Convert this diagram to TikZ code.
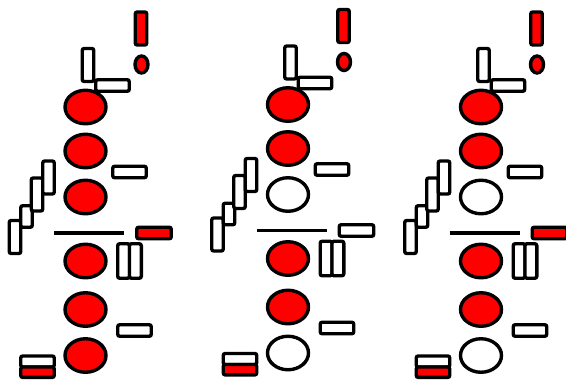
\documentclass[tikz,border=0pt]{standalone}
\usetikzlibrary{shapes.geometric}
\begin{document}
\begin{tikzpicture}[
    x=1pt, y=-1pt,
    every node/.style = {draw, line width=3.4pt, inner sep=0pt, outer sep=0pt, fill=white},
    oval/.style = {ellipse, minimum width=41pt, minimum height=33.5pt},
    vbar/.style = {rectangle, rounded corners=2pt, minimum width=11.5pt, minimum height=33pt},
    hbar/.style = {rectangle, rounded corners=2pt, minimum width=33.5pt, minimum height=11.5pt}
]
    \useasboundingbox (0,0) rectangle (566,380);

    % Three columns (name / shift / fill of ovals 3 and 6 / fill of the flag)
    \foreach \c/\dx/\dy/\midfill/\sidefill in {a/0/0/red/red, b/202.5/-2.5/white/white, c/395.5/0/white/red} {
    \begin{scope}[shift={(\dx,\dy)}]

    % Top part
    \node[vbar, fill=red] (top\c) at (141,28.5) {};
    \node[ellipse, fill=red, minimum width=13pt, minimum height=17pt] (dot\c) at (141.5,64.5) {};
    \node[vbar] (post\c) at (88,65) {};
    \node[oval, fill=red] (e1\c) at (85.5,107) {};
    \node[hbar] (arm\c) at (112.5,85.5) {};
    \node[oval, fill=red] (e2\c) at (85.5,151) {};
    \node[hbar] (s1\c) at (129.5,172) {};
    \node[oval, fill=\midfill] (e3\c) at (85.5,197) {};

    % Stairs
    \node[vbar] (st1\c) at (15,237) {};
    \node[vbar, minimum height=21.5pt] (st2\c) at (26.5,216.5) {};
    \node[vbar] (st3\c) at (37,194.5) {};
    \node[vbar] (st4\c) at (48.5,177.5) {};

    % Middle line
    \coordinate (l\c) at (54,233);
    \coordinate (r\c) at (124,233);
    \draw[line width=3.4pt] (l\c) -- (r\c);
    \node[hbar, fill=\sidefill, minimum width=34.5pt] (flag\c) at (154,233) {};

    % Bottom part
    \node[oval, fill=red] (e4\c) at (85.5,261) {};
    \node[vbar, minimum width=11.8pt, minimum height=34.5pt] (g1\c) at (123.6,261) {};
    \node[vbar, minimum width=11.8pt, minimum height=34.5pt] (g2\c) at (135.4,261) {};
    \node[oval, fill=red] (e5\c) at (85.5,309.5) {};
    \node[hbar] (s2\c) at (134.5,330.5) {};
    \node[oval, fill=\midfill] (e6\c) at (85.5,355.5) {};
    \node[hbar, minimum height=11pt] (b1\c) at (37.5,361.5) {};
    \node[hbar, fill=red, minimum height=10.4pt] (b2\c) at (37.5,372.2) {};

    \end{scope}
    }

\end{tikzpicture}
\end{document}
